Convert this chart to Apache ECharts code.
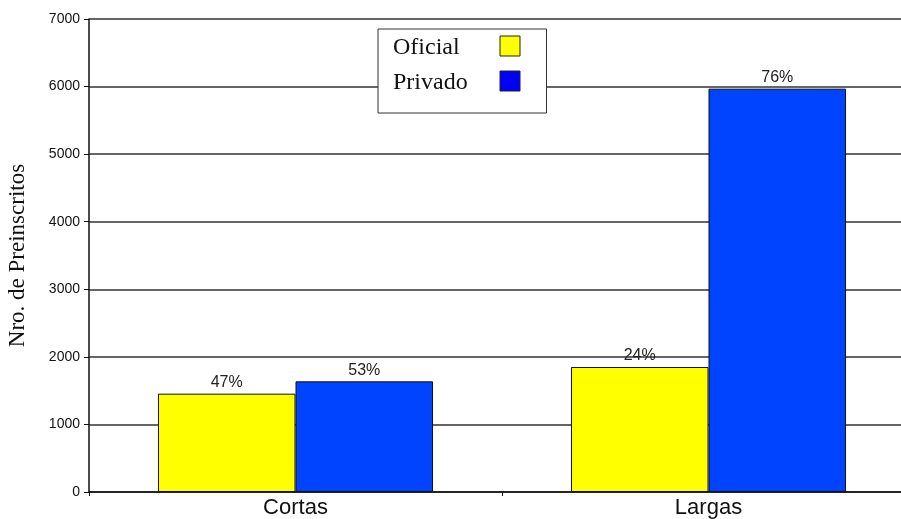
<!DOCTYPE html>
<html><head><meta charset="utf-8">
<script src="https://cdn.jsdelivr.net/npm/echarts@6/dist/echarts.min.js"></script>
<style>html,body{margin:0;padding:0;background:#fff}#c{width:901px;height:519px}</style>
</head><body><div id="c"></div>
<script>
const categories = ['Cortas', 'Largas'];
const oficial = [1455, 1850];
const privado = [1638, 5969];
const seriesNames = ['Oficial', 'Privado'];
const yTicks = [0, 1000, 2000, 3000, 4000, 5000, 6000, 7000];

function pct(idx, arr) {
  const total = oficial[idx] + privado[idx];
  return Math.round(arr[idx] / total * 100) + '%';
}
const labelStyle = {
  show: true, position: 'top', distance: 3,
  fontFamily: 'Liberation Sans, Arial', fontSize: 16, color: '#222'
};
const serif = 'Liberation Serif, Times New Roman';
const chart = echarts.init(document.getElementById('c'), null, {renderer: 'canvas'});
chart.setOption({
  animation: false,
  backgroundColor: '#fff',
  grid: {left: 89, right: -14, top: 19, bottom: 27, containLabel: false, outerBoundsMode: 'none'},
  legend: {
    data: [
      {name: 'Oficial', itemStyle: {color: '#ffff00'}},
      {name: 'Privado', itemStyle: {color: '#0000ff'}}
    ],
    orient: 'vertical',
    align: 'right',
    left: 378, top: 29,
    backgroundColor: '#fff',
    borderColor: '#333', borderWidth: 1,
    padding: [3, 26, 18, 15],
    itemWidth: 20, itemHeight: 20, itemGap: 7,
    icon: 'rect',
    itemStyle: {borderColor: '#222', borderWidth: 1},
    formatter: name => '{a|' + name + '}',
    textStyle: {fontFamily: serif, fontSize: 24, color: '#111',
      rich: {a: {width: 102, height: 24, lineHeight: 24, align: 'left', padding: [4, 0, 0, 0],
        backgroundColor: 'rgba(255,255,255,0)', fontFamily: serif, fontSize: 24, color: '#111'}}}
  },
  xAxis: {
    type: 'category', data: categories,
    axisLine: {lineStyle: {color: '#111', width: 1.5}},
    axisTick: {show: true, length: 4, lineStyle: {color: '#111'}},
    axisLabel: {fontFamily: 'Liberation Sans, Arial', fontSize: 22, color: '#111', margin: 5}
  },
  yAxis: {
    type: 'value', min: 0, max: 7000, interval: 1000,
    name: 'Nro. de Preinscritos', nameLocation: 'middle', nameRotate: 90, nameGap: 60,
    nameTextStyle: {fontFamily: serif, fontSize: 23, color: '#111'},
    axisLine: {show: true, lineStyle: {color: '#111', width: 1.5}},
    axisTick: {show: true, length: 5, lineStyle: {color: '#111'}},
    axisLabel: {fontFamily: 'Liberation Sans, Arial', fontSize: 14, color: '#111', margin: 9,
      formatter: v => yTicks.includes(v) ? String(v) : ''},
    splitLine: {lineStyle: {color: '#333', width: 1.5}}
  },
  series: [
    {name: seriesNames[0], type: 'bar', data: oficial, barGap: '0%', barCategoryGap: '33.4%',
     itemStyle: {color: '#ffff00', borderColor: '#111', borderWidth: 1},
     label: Object.assign({}, labelStyle, {formatter: p => pct(p.dataIndex, oficial)})},
    {name: seriesNames[1], type: 'bar', data: privado, barGap: '0%', barCategoryGap: '33.4%',
     itemStyle: {color: '#0044ff', borderColor: '#111', borderWidth: 1},
     label: Object.assign({}, labelStyle, {formatter: p => pct(p.dataIndex, privado)})}
  ]
});
</script></body></html>
